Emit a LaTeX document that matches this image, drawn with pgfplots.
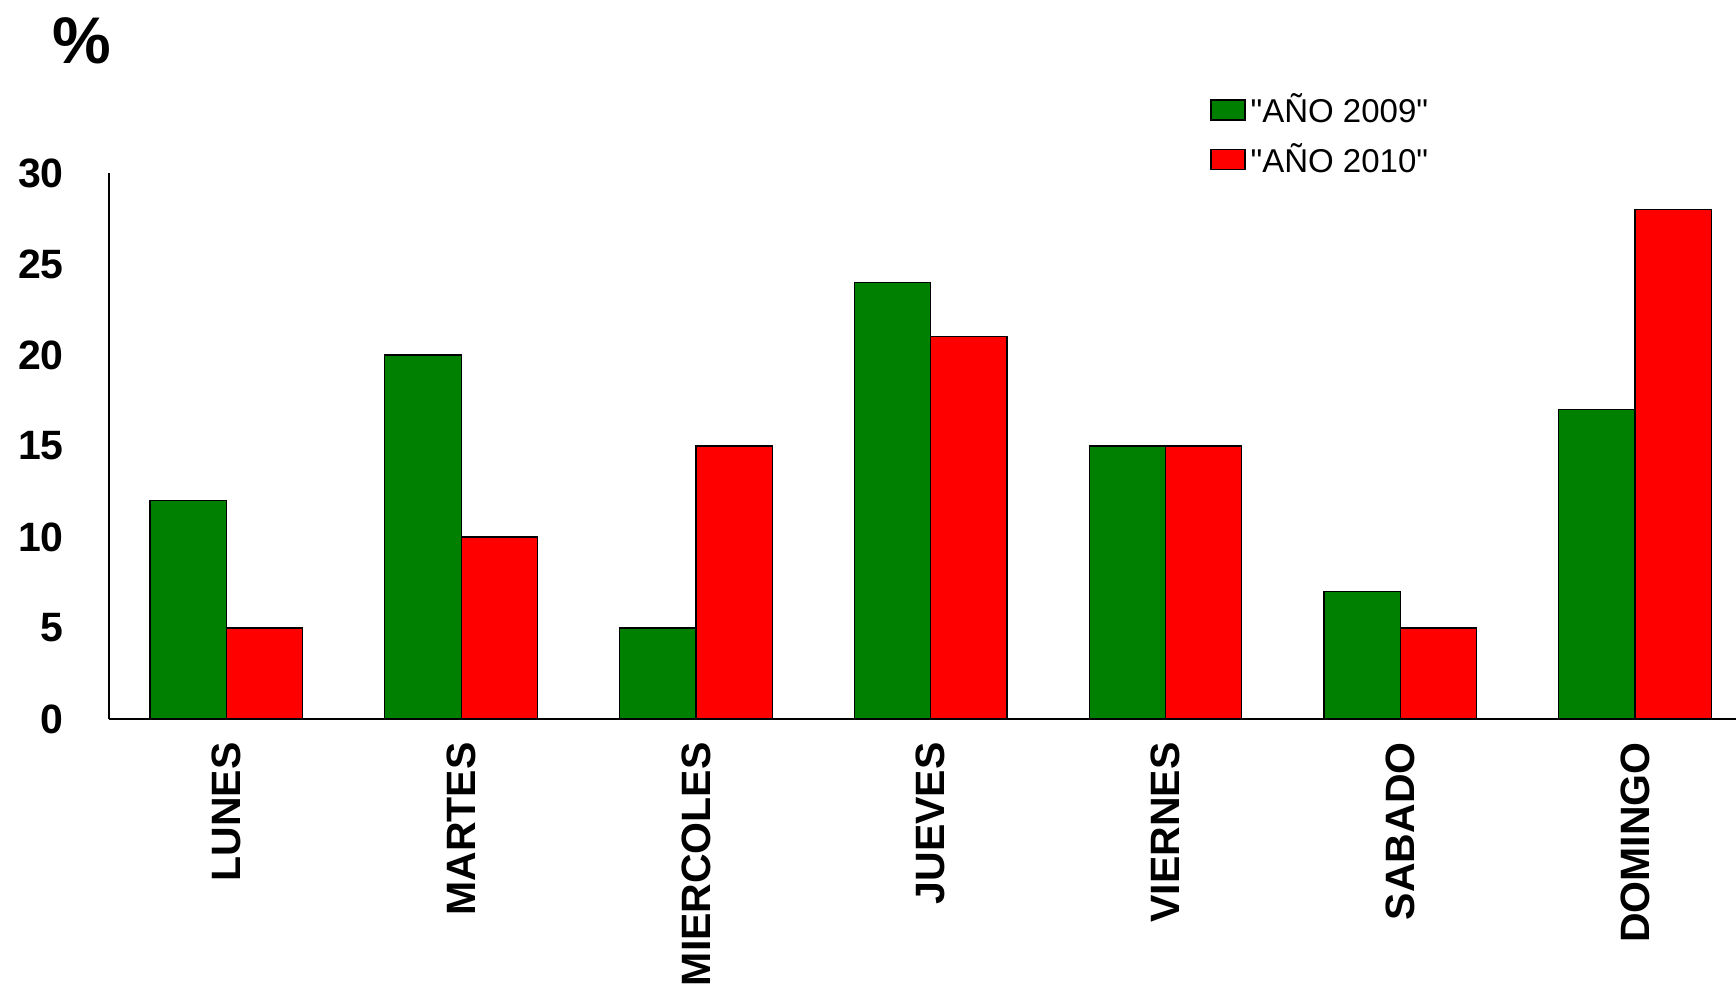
\documentclass[border=0pt]{standalone}
\usepackage{pgfplots}
\pgfplotsset{compat=1.18}
\usepackage{fontspec}
\setmainfont{Liberation Sans}
\definecolor{bargreen}{RGB}{0,128,0}
\definecolor{barred}{RGB}{255,0,0}
\begin{document}
\begin{tikzpicture}
\begin{axis}[
  name=ax,
  scale only axis,
  width=813.5pt, height=273pt,
  xmin=-0.5, xmax=6.43, ymin=0, ymax=30,
  axis x line*=bottom, axis y line*=left,
  axis line style={line width=0.8pt, -},
  ytick={0,5,...,30},
  xtick={0,...,6},
  xticklabels={LUNES,MARTES,MIERCOLES,JUEVES,VIERNES,SABADO,DOMINGO},
  major tick length=0pt,
  tick style={draw=none},
  /pgf/number format/assume math mode=true,
  ticklabel style={font=\bfseries\fontsize{20.5}{21}\selectfont},
  yticklabel style={inner sep=0pt, anchor=east},
  yticklabel shift=22.4pt,
  xticklabel style={inner sep=0pt, anchor=east, rotate=90, font=\bfseries\fontsize{20.5}{21}\selectfont},
  xticklabel shift=11.5pt,
  ylabel={\%},
  ylabel style={at={(axis description cs:-0.0170,1.242)}, rotate=-90, anchor=center, font=\bfseries\fontsize{33}{33}\selectfont},
  ybar=0pt,
  bar width=0.325,
  legend style={draw=none, fill=none, inner sep=0pt, at={(axis description cs:0.6767,1.136)}, anchor=north west,
    font=\fontsize{16.5}{17}\selectfont, row sep=12.9pt,
    nodes={inner sep=0pt, text height=11.8pt, text depth=0pt}},
  legend cell align=left,
  legend image code/.code={\draw[#1, draw=black, line width=0.6pt] (0pt,-4.5pt) rectangle (17pt,5.5pt); \path (19.5pt,0pt);},
]
\addplot[fill=bargreen, draw=black, line width=0.6pt, bar shift=-0.1625] coordinates {(0,12) (1,20) (2,5) (3,24) (4,15) (5,7) (6,17)};
\addplot[fill=barred, draw=black, line width=0.6pt, bar shift=0.1625] coordinates {(0,5) (1,10) (2,15) (3,21) (4,15) (5,5) (6,28)};
\legend{\textquotedbl AÑO 2009\textquotedbl, \textquotedbl AÑO 2010\textquotedbl}
\end{axis}
\pgfresetboundingbox
\path (-54.5pt,-133.5pt) rectangle (813.5pt,359.5pt);
\end{tikzpicture}
\end{document}
